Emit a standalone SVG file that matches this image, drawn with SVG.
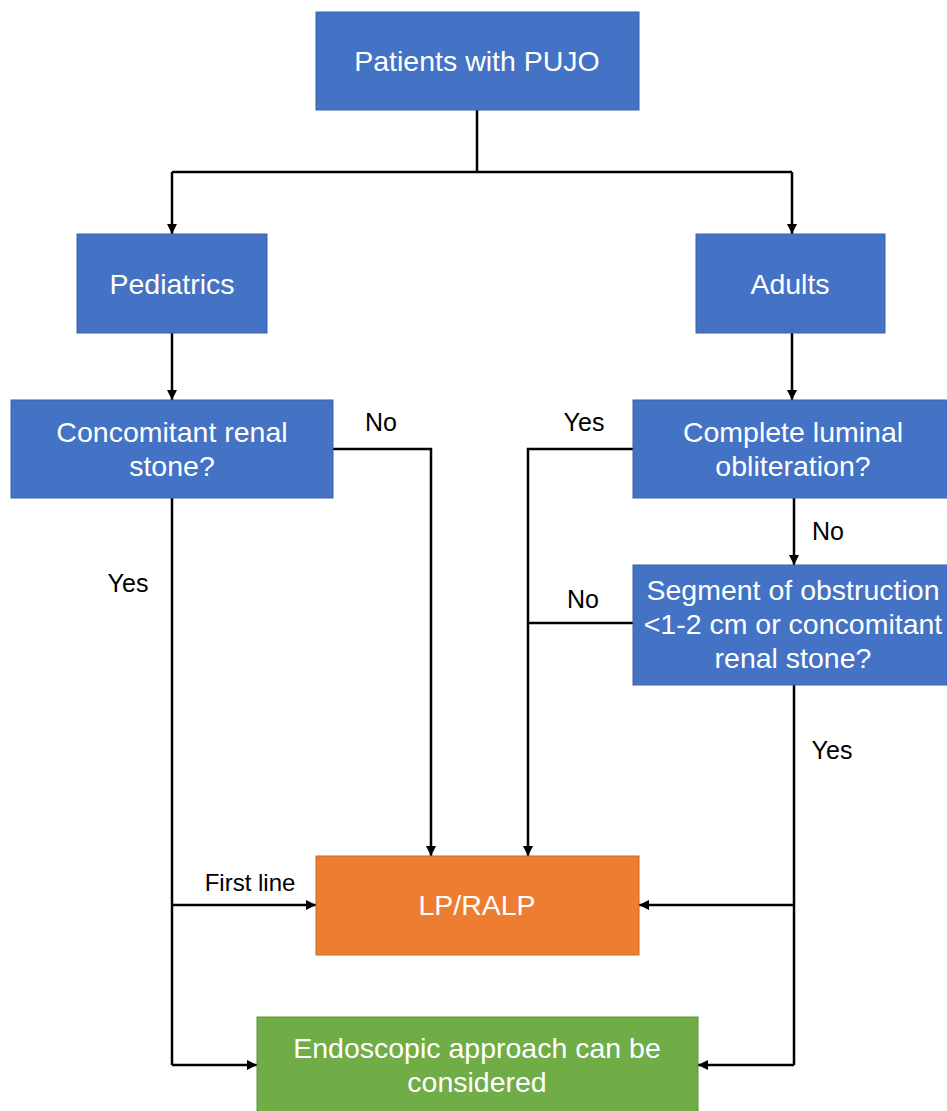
<svg xmlns="http://www.w3.org/2000/svg" width="947" height="1111" viewBox="0 0 947 1111">
<defs>
<marker id="arr" markerUnits="userSpaceOnUse" markerWidth="10" markerHeight="10" refX="10" refY="5" orient="auto">
<path d="M0,0 L10,5 L0,10 z" fill="#000"/>
</marker>
<style>
.blue{fill:#4472C4;stroke:#3A62AA;stroke-width:1}
.orange{fill:#ED7D31;stroke:#C9692A;stroke-width:1}
.green{fill:#70AD47;stroke:#5E9339;stroke-width:1}
.bt{font-family:"Liberation Sans",Arial,sans-serif;font-size:28.5px;fill:#fff;text-anchor:middle}
.lb{font-family:"Liberation Sans",Arial,sans-serif;font-size:25px;fill:#000;text-anchor:middle}
.ln{fill:none;stroke:#000;stroke-width:2.5}
.la{fill:none;stroke:#000;stroke-width:2.5;marker-end:url(#arr)}
</style>
</defs>
<rect width="947" height="1111" fill="#fff"/>
<g id="connectors">
<path class="ln" d="M477,110 V172 M172,172 H792"/>
<path class="la" d="M172,172 V234"/>
<path class="la" d="M792,172 V234"/>
<path class="la" d="M172,333 V400"/>
<path class="la" d="M792,333 V400"/>
<path class="la" d="M333,449 H431 V856"/>
<path class="la" d="M633,449 H528 V856"/>
<path class="ln" d="M633,623 H528"/>
<path class="la" d="M794,498 V565"/>
<path class="ln" d="M172,498 V1065"/>
<path class="la" d="M172,905 H316"/>
<path class="la" d="M172,1065 H257"/>
<path class="ln" d="M794,685 V1065"/>
<path class="la" d="M794,905 H639"/>
<path class="la" d="M794,1065 H698"/>
<text class="lb" x="381" y="431">No</text>
<text class="lb" x="584" y="431">Yes</text>
<text class="lb" x="828" y="540">No</text>
<text class="lb" x="583" y="608">No</text>
<text class="lb" x="128" y="592">Yes</text>
<text class="lb" x="832" y="759">Yes</text>
<text class="lb" x="250" y="891" style="font-size:24px">First line</text>
</g>
<g id="patients">
<rect class="blue" x="316" y="12" width="323" height="98"/>
<text class="bt" x="477" y="71">Patients with PUJO</text>
</g>
<g id="pediatrics">
<rect class="blue" x="77" y="234" width="190" height="99"/>
<text class="bt" x="172" y="294">Pediatrics</text>
</g>
<g id="adults">
<rect class="blue" x="696" y="234" width="189" height="99"/>
<text class="bt" x="790" y="294">Adults</text>
</g>
<g id="stone">
<rect class="blue" x="11" y="400" width="322" height="98"/>
<text class="bt" x="172" y="442">Concomitant renal</text>
<text class="bt" x="172" y="476">stone?</text>
</g>
<g id="luminal">
<rect class="blue" x="633" y="400" width="320" height="98"/>
<text class="bt" x="793" y="442">Complete luminal</text>
<text class="bt" x="793" y="476">obliteration?</text>
</g>
<g id="segment">
<rect class="blue" x="633" y="565" width="320" height="120"/>
<text class="bt" x="793" y="600">Segment of obstruction</text>
<text class="bt" x="793" y="634">&lt;1-2 cm or concomitant</text>
<text class="bt" x="793" y="668">renal stone?</text>
</g>
<g id="lpralp">
<rect class="orange" x="316" y="856" width="323" height="99"/>
<text class="bt" x="477" y="915">LP/RALP</text>
</g>
<g id="endoscopic">
<rect class="green" x="257" y="1017" width="441" height="100"/>
<text class="bt" x="477" y="1058">Endoscopic approach can be</text>
<text class="bt" x="477" y="1092">considered</text>
</g>
</svg>
